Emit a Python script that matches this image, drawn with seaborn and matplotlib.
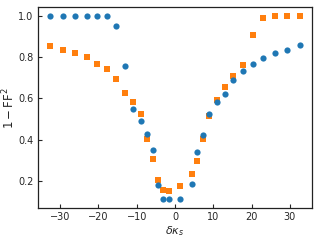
import numpy as np
import pandas as pd
import seaborn as sns
import matplotlib
matplotlib.use("Agg")
import matplotlib.pyplot as plt

x_vals = [-32.6, -29.2, -26.1, -23.1, -20.3, -17.7, -15.3, -13.0, -11.0, -9.0,
          -7.3, -5.8, -4.4, -3.2, -1.5, 1.4, 4.3, 5.7, 7.3, 9.0,
          11.0, 13.0, 15.2, 17.7, 20.3, 23.1, 26.1, 29.2, 32.6]
blue_vals = [1.0, 1.0, 1.0, 1.0, 1.0, 0.998, 0.95, 0.758, 0.55, 0.49,
             0.429, 0.348, 0.18, 0.112, 0.111, 0.112, 0.185, 0.34, 0.42, 0.524,
             0.582, 0.621, 0.69, 0.735, 0.767, 0.795, 0.818, 0.833, 0.857]
orange_vals = [0.852, 0.833, 0.821, 0.8, 0.766, 0.741, 0.693, 0.628, 0.584, 0.524,
               0.403, 0.304, 0.205, 0.156, 0.15, 0.174, 0.231, 0.298, 0.403, 0.515,
               0.592, 0.654, 0.707, 0.761, 0.907, 0.99, 1.0, 1.0, 1.0]

sns.set_style("white")
plt.rcParams['font.family'] = ['DejaVu Sans']

fig, ax = plt.subplots(figsize=(3.2, 2.4), dpi=100)
sns.scatterplot(x=x_vals, y=blue_vals, ax=ax, marker='o', color='#1f77b4',
                s=20, linewidth=0, zorder=3)
sns.scatterplot(x=x_vals, y=orange_vals, ax=ax, marker='s', color='#ff7f0e',
                s=16, linewidth=0, zorder=2)

ax.set_xlabel(r'$\delta\kappa_s$', fontsize=8, labelpad=1)
ax.set_ylabel(r'$1-\mathrm{FF}^2$', fontsize=8.5, labelpad=1)
ax.set_xticks([-30, -20, -10, 0, 10, 20, 30])
ax.set_yticks([0.2, 0.4, 0.6, 0.8, 1.0])
ax.tick_params(direction='in', labelsize=7, length=3, width=0.8,
               bottom=True, left=True, top=False, right=False, pad=3)
for sp in ax.spines.values():
    sp.set_color('#222222')
    sp.set_linewidth(0.9)
ax.margins(0.05)

fig.subplots_adjust(left=0.118, right=0.976, top=0.972, bottom=0.132)
fig.savefig('out.png', dpi=100)
